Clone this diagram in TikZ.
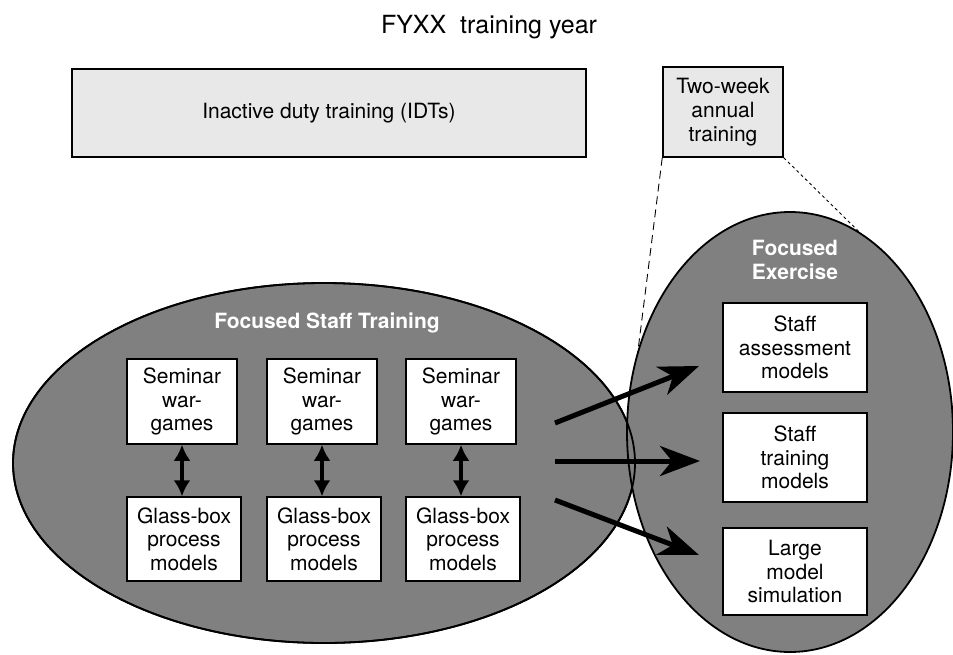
\documentclass[tikz,border=0pt]{standalone}
\usepackage{fontspec}
\setmainfont{TeX Gyre Heros}
\usetikzlibrary{shapes.geometric,arrows.meta}
\begin{document}
\begin{tikzpicture}[x=1pt,y=-1pt,
  lightbox/.style={draw=black, line width=1.5pt, fill=black!9, inner sep=0pt,
    font=\fontsize{21}{24}\selectfont, align=center},
  wbox/.style={draw=black, line width=1.5pt, fill=white, inner sep=0pt,
    font=\fontsize{21}{23.5}\selectfont, align=center},
  blob/.style={ellipse, draw=black, line width=1.8pt, fill=black!50, inner sep=0pt, outer sep=0pt},
  whitelab/.style={text=white, font=\fontsize{21}{24}\selectfont\bfseries, align=center},
  bigarrow/.style={line width=5pt, -{Stealth[length=40pt, width=30pt, inset=12pt]}},
  duo/.style={line width=4pt, {Latex[length=16pt,width=17pt]}-{Latex[length=16pt,width=17pt]}},
  leaderA/.style={line width=0.9pt, dash pattern=on 8pt off 5pt},
  leaderB/.style={line width=0.9pt, dash pattern=on 3pt off 3pt},
]
\useasboundingbox (0,0) rectangle (953,654);

% title
\node[font=\fontsize{25}{30}\selectfont, anchor=base, inner sep=0pt] (title) at (489,33) {FYXX\ \ training year};

% top boxes
\node[lightbox, minimum width=514pt, minimum height=88pt] (idt) at (329,113) {Inactive duty training (IDTs)};
\node[lightbox, minimum width=120pt, minimum height=90pt] (tw) at (723,112) {Two-week\\annual\\training};

% ellipses
\node[blob, minimum width=622pt, minimum height=360pt] (fst) at (324,463) {};
\node[blob, minimum width=326pt, minimum height=440pt] (ex) at (790,432) {};
\draw[line width=1.8pt] (fst.center) ellipse [x radius=311pt, y radius=180pt];

% leaders
\draw[leaderA] (tw.south west) -- (ex.153);
\draw[leaderB] (tw.south east) -- (ex.70);

% labels in ellipses
\node[whitelab] (fstl) at (327,323) {Focused Staff Training};
\node[whitelab] (exl) at (795,260) {Focused\\Exercise};

% left boxes
\node[wbox, minimum width=110pt, minimum height=85pt] (s1) at (182,401.5) {Seminar\\war-\\games};
\node[wbox, minimum width=110pt, minimum height=85pt] (s2) at (322,401.5) {Seminar\\war-\\games};
\node[wbox, minimum width=110pt, minimum height=85pt] (s3) at (461,401.5) {Seminar\\war-\\games};
\node[wbox, minimum width=114pt, minimum height=84pt] (g1) at (184,539) {Glass-box\\process\\models};
\node[wbox, minimum width=114pt, minimum height=84pt] (g2) at (324,539) {Glass-box\\process\\models};
\node[wbox, minimum width=114pt, minimum height=84pt] (g3) at (463,539) {Glass-box\\process\\models};

\draw[duo] (s1.south) -- (s1.south |- g1.north);
\draw[duo] (s2.south) -- (s2.south |- g2.north);
\draw[duo] (s3.south) -- (s3.south |- g3.north);

% right boxes
\node[wbox, minimum width=144pt, minimum height=89pt] (r1) at (795,347.5) {Staff\\assessment\\models};
\node[wbox, minimum width=144pt, minimum height=89pt] (r2) at (795,457.5) {Staff\\training\\models};
\node[wbox, minimum width=144pt, minimum height=87pt] (r3) at (795,571.5) {Large\\model\\simulation};

% big arrows
\coordinate (a1) at (555,423);
\coordinate (a2) at (555,461);
\coordinate (a3) at (555,500);
\coordinate (b1) at (699,366);
\coordinate (b2) at (700,461);
\coordinate (b3) at (699,555);
\draw[bigarrow] (a1) -- (b1);
\draw[bigarrow] (a2) -- (b2);
\draw[bigarrow] (a3) -- (b3);
\end{tikzpicture}
\end{document}
